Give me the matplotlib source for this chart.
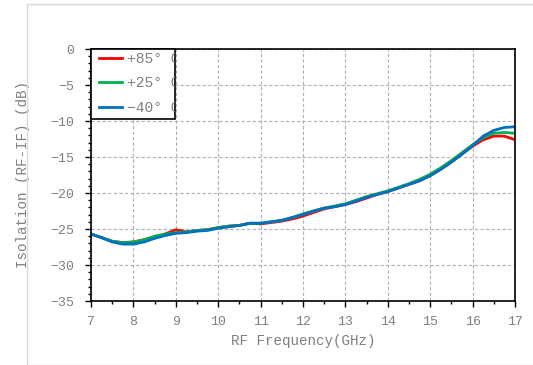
import matplotlib
matplotlib.use("Agg")
import matplotlib.pyplot as plt
from matplotlib.patches import Rectangle
from matplotlib.transforms import Bbox, TransformedBbox
from matplotlib.ticker import MultipleLocator

# RF frequency (GHz)
freq = [7.0, 7.25, 7.5, 7.75, 8.0, 8.25, 8.5, 8.75, 9.0, 9.25, 9.5, 9.75,
        10.0, 10.25, 10.5, 10.75, 11.0, 11.25, 11.5, 11.75, 12.0, 12.25, 12.5, 12.75,
        13.0, 13.25, 13.5, 13.75, 14.0, 14.25, 14.5, 14.75, 15.0, 15.25, 15.5, 15.75,
        16.0, 16.25, 16.5, 16.75, 17.0]

# isolation (dB) for each temperature
iso_p85 = [-25.7, -26.2, -26.7, -26.9, -26.8, -26.5, -26.1, -25.7, -25.1, -25.4, -25.2, -25.1,
           -24.8, -24.6, -24.5, -24.2, -24.3, -24.1, -23.9, -23.6, -23.2, -22.7, -22.2, -21.9,
           -21.6, -21.2, -20.7, -20.2, -19.8, -19.3, -18.8, -18.3, -17.6, -16.7, -15.7, -14.6,
           -13.5, -12.6, -12.1, -12.1, -12.6]
iso_p25 = [-25.7, -26.2, -26.7, -26.9, -26.8, -26.5, -26.0, -25.7, -25.5, -25.4, -25.2, -25.1,
           -24.8, -24.6, -24.5, -24.2, -24.2, -24.0, -23.8, -23.4, -22.9, -22.5, -22.1, -21.8,
           -21.5, -21.0, -20.5, -20.1, -19.7, -19.2, -18.7, -18.1, -17.4, -16.5, -15.5, -14.4,
           -13.3, -12.3, -11.7, -11.6, -11.7]
iso_m40 = [-25.7, -26.2, -26.8, -27.1, -27.1, -26.8, -26.3, -25.9, -25.6, -25.5, -25.3, -25.2,
           -24.9, -24.7, -24.5, -24.2, -24.2, -24.0, -23.8, -23.4, -23.0, -22.5, -22.1, -21.9,
           -21.6, -21.1, -20.6, -20.2, -19.8, -19.3, -18.8, -18.3, -17.6, -16.7, -15.7, -14.6,
           -13.4, -12.1, -11.3, -10.9, -10.8]

labels = ["+85° C", "+25° C", "−40° C"]
colors = ["#ff0000", "#00b050", "#0070c0"]

font = "Liberation Mono"
gray = "#7f7f7f"

fig = plt.figure(figsize=(5.33, 3.65), dpi=100)
# light outer frame of the chart area
fig.patches.append(Rectangle((27 / 533, 0), 1, 1 - 4 / 365, transform=fig.transFigure,
                             fill=False, edgecolor="#d9d9d9", linewidth=1.0))

ax = fig.add_axes([91 / 533, 1 - 301 / 365, 424 / 533, 252 / 365])

for ys, lab, c in zip([iso_p85, iso_p25, iso_m40], labels, colors):
    ax.plot(freq, ys, color=c, linewidth=2.0, label=lab)

ax.set_xlim(7, 17)
ax.set_ylim(-35, 0)
ax.xaxis.set_major_locator(MultipleLocator(1))
ax.xaxis.set_minor_locator(MultipleLocator(0.5))
ax.yaxis.set_major_locator(MultipleLocator(5))
ax.yaxis.set_minor_locator(MultipleLocator(1))
ax.grid(True, which="major", color="#b0b0b0", linestyle=(0, (3, 2)), linewidth=0.8)

for s in ax.spines.values():
    s.set_linewidth(1.2)
    s.set_color("black")

ax.tick_params(which="major", direction="out", length=4, width=1, colors="black",
               labelcolor=gray, labelsize=9.5)
ax.tick_params(which="minor", direction="out", length=2.5, width=1, colors="black")
ax.tick_params(axis="x", which="major", pad=7)
ax.tick_params(axis="y", which="major", pad=8)
for t in ax.get_xticklabels() + ax.get_yticklabels():
    t.set_fontfamily(font)

ax.set_xlabel("RF Frequency(GHz)", fontfamily=font, fontsize=10.3, color=gray, labelpad=4)
ax.set_ylabel("Isolation (RF-IF) (dB)", fontfamily=font, fontsize=10.3, color=gray, labelpad=15)

# legend box: narrower than its text, so the last letter is cut by the frame
box_w, box_h = 84 / 424, 70 / 252
ax.add_patch(Rectangle((0, 1 - box_h), box_w, box_h, transform=ax.transAxes,
                       facecolor="white", edgecolor="black", linewidth=1.2,
                       zorder=4, clip_on=False))
leg = ax.legend(loc="upper left", bbox_to_anchor=(5 / 424, 1.0), borderaxespad=0,
                frameon=False, handlelength=1.6, handletextpad=0.3, labelspacing=0.72,
                borderpad=0.2, prop={"family": font, "size": 10.5})
leg.set_zorder(5)
clip = TransformedBbox(Bbox([[0, 1 - box_h], [box_w, 1]]), ax.transAxes)
for t in leg.get_texts():
    t.set_color(gray)
    t.set_clip_box(clip)
    t.set_clip_on(True)

fig.savefig("out.png", dpi=100)
